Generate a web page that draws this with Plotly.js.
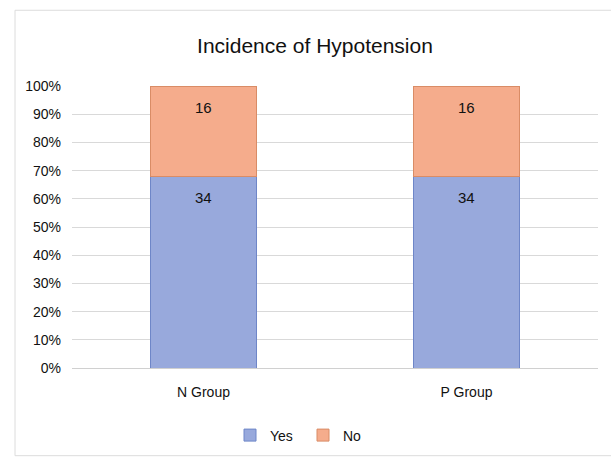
<!DOCTYPE html>
<html>
<head>
<meta charset="utf-8">
<script src="https://cdn.plot.ly/plotly-3.0.1.min.js"></script>
<style>
html,body{margin:0;padding:0;background:#fff;}
#chart{width:611px;height:462px;}
</style>
</head>
<body>
<div id="chart"></div>
<script>
var categories = ["N Group", "P Group"];
var yesValues = [34, 34];
var noValues = [16, 16];
var seriesNames = ["Yes", "No"];
var yTicks = [0, 10, 20, 30, 40, 50, 60, 70, 80, 90, 100];

var font = "Liberation Sans, Arial, sans-serif";

var traces = [
  {
    type: "bar", name: seriesNames[0], x: categories, y: yesValues,
    marker: {color: "#98A9DC", line: {color: "#6E86C8", width: 1}},
    width: 0.4, hoverinfo: "none"
  },
  {
    type: "bar", name: seriesNames[1], x: categories, y: noValues,
    marker: {color: "#F5AC8C", line: {color: "#D98C66", width: 1}},
    width: 0.4, hoverinfo: "none"
  }
];

// data labels near the top of each stacked segment (percent-normalised positions)
var annotations = [];
categories.forEach(function (c, i) {
  var total = yesValues[i] + noValues[i];
  var yesTop = yesValues[i] / total * 100;
  annotations.push({x: c, y: yesTop, xref: "x", yref: "y", text: String(yesValues[i]),
    showarrow: false, yanchor: "top", yshift: -11, font: {family: font, size: 15, color: "#111"}});
  annotations.push({x: c, y: 100, xref: "x", yref: "y", text: String(noValues[i]),
    showarrow: false, yanchor: "top", yshift: -11, font: {family: font, size: 15, color: "#111"}});
});

var layout = {
  width: 611, height: 462,
  margin: {l: 72, r: 13, t: 86, b: 93},
  paper_bgcolor: "#fff", plot_bgcolor: "#fff",
  barmode: "stack", barnorm: "percent",
  font: {family: font, color: "#222"},
  title: {text: "Incidence of Hypotension", font: {family: font, size: 21, color: "#111"},
          x: 315 / 611, xref: "container", xanchor: "center", y: 0.902, yref: "container", yanchor: "middle"},
  xaxis: {tickfont: {size: 14, color: "#111"}, showgrid: false, showline: false, ticks: "",
          ticklabelstandoff: 14},
  yaxis: {range: [0, 100], tickvals: yTicks, ticktext: yTicks.map(function(v){return v + "%";}),
          tickfont: {size: 14, color: "#111"}, showgrid: true, gridcolor: "#d9d9d9",
          zeroline: true, zerolinecolor: "#d0d0d0", ticks: "", ticklabelstandoff: 10},
  annotations: annotations,
  showlegend: true,
  legend: {orientation: "h", x: (303 - 72) / 526, xanchor: "center", y: -0.235, yanchor: "middle",
           font: {size: 14, color: "#111"}, traceorder: "normal",
           entrywidth: 28, entrywidthmode: "pixels", itemwidth: 30},
  shapes: [{type: "rect", xref: "paper", yref: "paper",
            x0: -57/526, x1: 1.03, y0: -88/283, y1: 1 + 76/283,
            line: {color: "#dcdcdc", width: 1}}]
};

Plotly.newPlot("chart", traces, layout, {displayModeBar: false, staticPlot: true});
</script>
</body>
</html>
